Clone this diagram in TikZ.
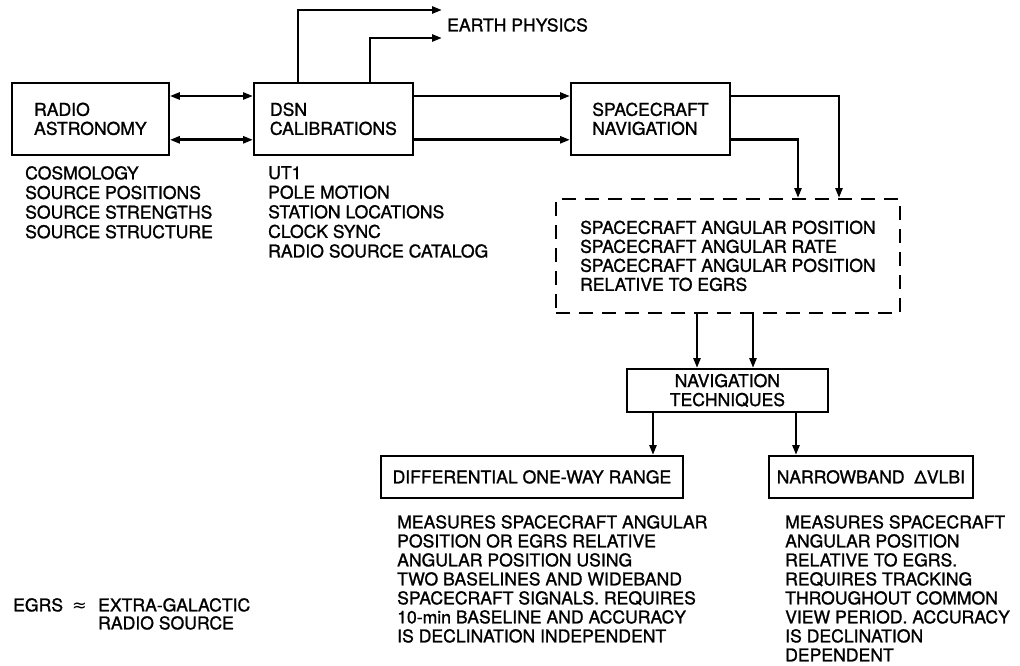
\documentclass[tikz,border=0pt]{standalone}
\usepackage{fontspec}
\setmainfont{TeX Gyre Heros}[FakeBold=1.2]
\newfontfamily\symfont{DejaVu Sans}
\usetikzlibrary{arrows.meta}
\tikzset{
  blk/.style={draw, line width=1.8pt, minimum height=72pt, align=left, inner sep=0pt},
  dbox/.style={blk, dash pattern=on 14pt off 9pt},
  lst/.style={align=left, inner sep=0pt, anchor=north west},
  conn/.style={line width=2.7pt},
}
\begin{document}
\begin{tikzpicture}[x=1pt, y=-1pt, >={Triangle[length=10pt,width=7pt]},
    font=\fontsize{17.6}{19}\selectfont]
  \useasboundingbox (0,0) rectangle (1020,666);
  % 上段の箱
  \node[blk, minimum width=157pt, anchor=north west] (ra) at (11,82) {RADIO\\ASTRONOMY};
  \node[blk, minimum width=159pt, anchor=north west] (dsn) at (253,82) {DSN\\CALIBRATIONS};
  \node[blk, minimum width=159pt, anchor=north west] (sp) at (570,82) {SPACECRAFT\\NAVIGATION};
  % EARTH PHYSICS
  \node[anchor=west, inner sep=0pt] (ep) at (447,25) {EARTH PHYSICS};
  \coordinate (ep1) at (442,10);
  \coordinate (ep2) at (442,38);
  % 箱の下の項目
  \node[lst, font=\fontsize{17.6}{19.6}\selectfont] (ralist) at (25,166)
    {COSMOLOGY\\SOURCE POSITIONS\\SOURCE STRENGTHS\\SOURCE STRUCTURE};
  \node[lst, font=\fontsize{17.6}{19.6}\selectfont] (dsnlist) at (268,166)
    {UT1\\POLE MOTION\\STATION LOCATIONS\\CLOCK SYNC\\RADIO SOURCE CATALOG};
  % 点線の枠
  \node[dbox, minimum width=344pt, minimum height=114pt, anchor=north west] (dsh) at (555,198)
    {SPACECRAFT ANGULAR POSITION\\SPACECRAFT ANGULAR RATE\\SPACECRAFT ANGULAR POSITION\\RELATIVE TO EGRS};
  % 航法技術
  \node[blk, align=center, minimum width=201pt, minimum height=43pt, anchor=north west] (nav) at (626,368)
    {NAVIGATION\\TECHNIQUES};
  \node[blk, minimum width=302pt, minimum height=42pt, anchor=north west] (dowr) at (380,455)
    {DIFFERENTIAL ONE-WAY RANGE};
  \node[blk, minimum width=204pt, minimum height=42pt, anchor=north west] (nb) at (768,455)
    {NARROWBAND\ \ ΔVLBI};
  \node[lst] (dowrtext) at (397,515)
    {MEASURES SPACECRAFT ANGULAR\\POSITION OR EGRS RELATIVE\\ANGULAR POSITION USING\\TWO BASELINES AND WIDEBAND\\SPACECRAFT SIGNALS. REQUIRES\\10-min BASELINE AND ACCURACY\\IS DECLINATION INDEPENDENT};
  \node[lst] (nbtext) at (785,515)
    {MEASURES SPACECRAFT\\ANGULAR POSITION\\RELATIVE TO EGRS.\\REQUIRES TRACKING\\THROUGHOUT COMMON\\VIEW PERIOD. ACCURACY\\IS DECLINATION\\DEPENDENT};
  % 凡例
  \node[lst] (egrs) at (13,598) {EGRS\hspace{9pt}{\symfont ≈}};
  \node[lst, font=\fontsize{17.6}{18}\selectfont] (egrsdef) at (98,598) {EXTRA-GALACTIC\\RADIO SOURCE};
  % 矢印
  \draw[conn, <->] ([yshift=-14pt]ra.north east) -- ([yshift=-14pt]dsn.north west);
  \draw[conn, <->] ([yshift=16pt]ra.south east) -- ([yshift=16pt]dsn.south west);
  \draw[conn, ->] ([yshift=-14pt]dsn.north east) -- ([yshift=-14pt]sp.north west);
  \draw[conn, ->] ([yshift=16pt]dsn.south east) -- ([yshift=16pt]sp.south west);
  \draw[conn, ->] ([xshift=45pt]dsn.north west) |- (ep1);
  \draw[conn, ->] ([xshift=117pt]dsn.north west) |- (ep2);
  \draw[conn, ->] ([yshift=-14pt]sp.north east) -| ([xshift=284pt]dsh.north west);
  \draw[conn, ->] ([yshift=16pt]sp.south east) -| ([xshift=243pt]dsh.north west);
  \draw[conn, ->] ([xshift=142pt]dsh.south west) -- ([xshift=71pt]nav.north west);
  \draw[conn, ->] ([xshift=198pt]dsh.south west) -- ([xshift=127pt]nav.north west);
  \draw[conn, ->] ([xshift=27pt]nav.south west) -- ([xshift=273pt]dowr.north west);
  \draw[conn, ->] ([xshift=170pt]nav.south west) -- ([xshift=28pt]nb.north west);
\end{tikzpicture}
\end{document}
